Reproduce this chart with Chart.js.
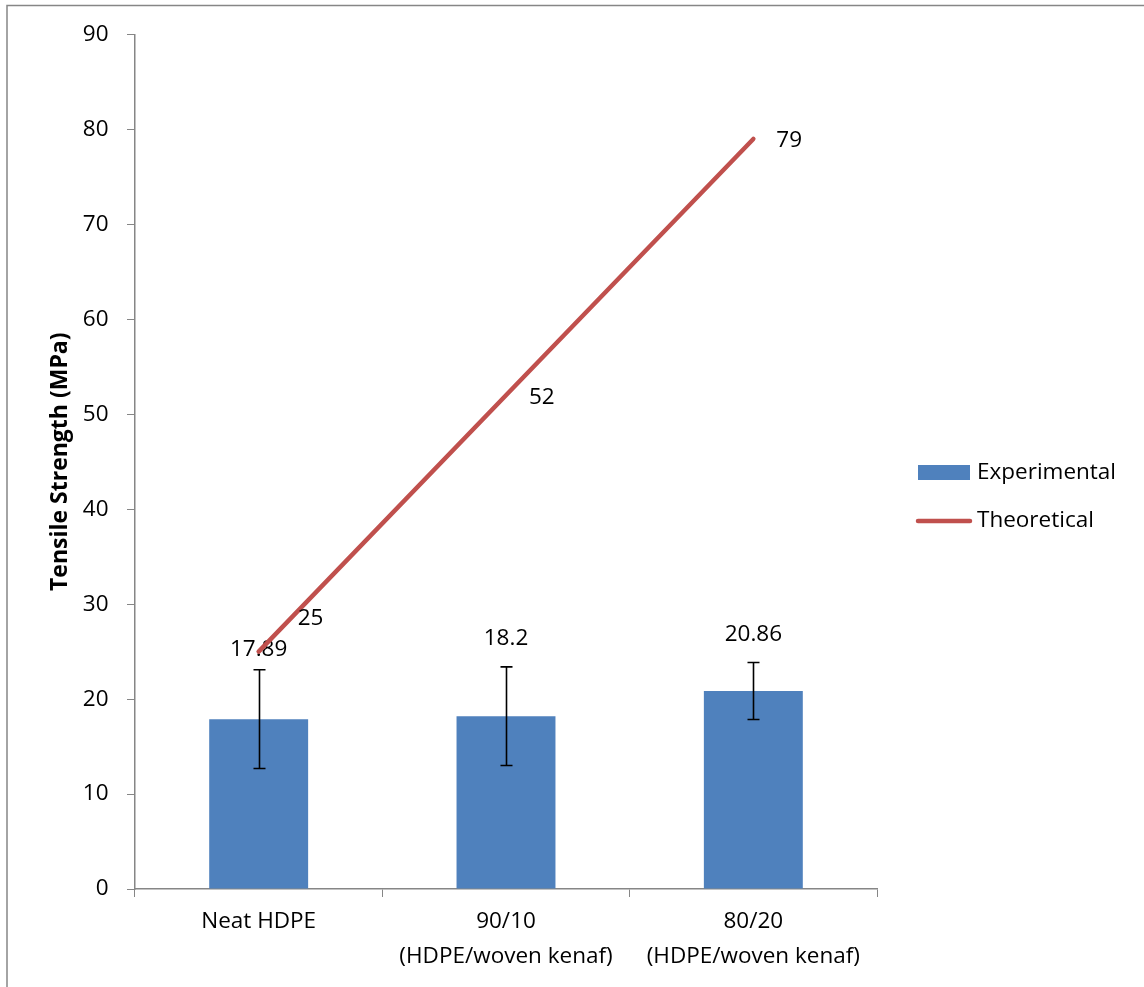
<!DOCTYPE html>
<html>
<head>
<meta charset="utf-8">
<script src="https://cdn.jsdelivr.net/npm/chart.js@4.4.1/dist/chart.umd.min.js"></script>
<style>
  html, body { margin: 0; padding: 0; background: #ffffff; }
  #wrap { width: 1144px; height: 987px; position: relative; }
</style>
</head>
<body>
<div id="wrap"><canvas id="c" width="1144" height="987"></canvas></div>
<script>
// ---- data ----
const categories = ['Neat HDPE', ['90/10', '(HDPE/woven kenaf)'], ['80/20', '(HDPE/woven kenaf)']];
const experimental = [17.89, 18.2, 20.86];
const experimentalError = [5.2, 5.2, 3.0];
const theoretical = [25, 52, 79];
const experimentalLabels = ['17.89', '18.2', '20.86'];
const theoreticalLabels = ['25', '52', '79'];
const yMin = 0, yMax = 90, yStep = 10;
const seriesNames = ['Experimental', 'Theoretical'];
const yTitle = 'Tensile Strength (MPa)';

// ---- style / layout (not data) ----
const FONT = '"Open Sans", "Liberation Sans", sans-serif';
const FS = 22.5;
const BLUE = '#4F81BD';
const RED = '#C0504D';
const AXIS = '#868686';
const barLabelGap = [20, 28, 28];          // px above error-bar top
const lineLabelNudge = [[39, -33], [23, 2], [23, 2]]; // px offsets from point

const frame = {
  id: 'frame',
  beforeDraw(chart) {
    const ctx = chart.ctx;
    ctx.save();
    ctx.fillStyle = '#fff';
    ctx.fillRect(0, 0, chart.width, chart.height);
    ctx.strokeStyle = AXIS;
    ctx.lineWidth = 1.5;
    ctx.beginPath();
    ctx.moveTo(7, chart.height);
    ctx.lineTo(7, 5.5);
    ctx.lineTo(chart.width, 5.5);
    ctx.stroke();
    ctx.restore();
  }
};

const extras = {
  id: 'extras',
  afterDatasetDraw(chart, args) {
    const ctx = chart.ctx;
    const y = chart.scales.y;
    if (args.meta.type === 'bar') {
      ctx.save();
      ctx.strokeStyle = '#000';
      ctx.lineWidth = 1.6;
      args.meta.data.forEach((bar, i) => {
        const v = experimental[i], e = experimentalError[i];
        const x = Math.round(bar.x) + 0.5;
        const yt = y.getPixelForValue(v + e), yb = y.getPixelForValue(v - e);
        ctx.beginPath();
        ctx.moveTo(x, yt); ctx.lineTo(x, yb);
        ctx.moveTo(x - 6, yt); ctx.lineTo(x + 6, yt);
        ctx.moveTo(x - 6, yb); ctx.lineTo(x + 6, yb);
        ctx.stroke();
        ctx.fillStyle = '#000';
        ctx.font = FS + 'px ' + FONT;
        ctx.textAlign = 'center';
        ctx.textBaseline = 'middle';
        ctx.fillText(experimentalLabels[i], bar.x, yt - barLabelGap[i]);
      });
      ctx.restore();
    }
    if (args.meta.type === 'line') {
      ctx.save();
      ctx.fillStyle = '#000';
      ctx.font = FS + 'px ' + FONT;
      ctx.textAlign = 'left';
      ctx.textBaseline = 'middle';
      args.meta.data.forEach((pt, i) => {
        ctx.fillText(theoreticalLabels[i], pt.x + lineLabelNudge[i][0], pt.y + lineLabelNudge[i][1]);
      });
      ctx.restore();
    }
  },
  afterDraw(chart) {
    const ctx = chart.ctx;
    ctx.save();
    ctx.font = FS + 'px ' + FONT;
    ctx.fillStyle = '#000';
    ctx.textAlign = 'left';
    ctx.textBaseline = 'middle';
    // Experimental
    ctx.fillStyle = BLUE;
    ctx.fillRect(918, 465, 52, 15);
    ctx.fillStyle = '#000';
    ctx.fillText(seriesNames[0], 977, 473);
    // Theoretical
    ctx.strokeStyle = RED;
    ctx.lineWidth = 4.5;
    ctx.lineCap = 'round';
    ctx.beginPath();
    ctx.moveTo(918, 521); ctx.lineTo(970, 521);
    ctx.stroke();
    ctx.fillText(seriesNames[1], 977, 521);
    ctx.restore();
  }
};

new Chart(document.getElementById('c'), {
  type: 'bar',
  data: {
    labels: categories,
    datasets: [
      {
        type: 'line',
        label: seriesNames[1],
        data: theoretical,
        borderColor: RED,
        backgroundColor: RED,
        borderWidth: 4.5,
        borderCapStyle: 'round',
        pointRadius: 0,
        pointHoverRadius: 0,
        tension: 0,
        order: 0
      },
      {
        type: 'bar',
        label: seriesNames[0],
        data: experimental,
        backgroundColor: BLUE,
        borderWidth: 0,
        barPercentage: 0.4,
        categoryPercentage: 1.0,
        order: 1
      }
    ]
  },
  options: {
    responsive: false,
    animation: false,
    devicePixelRatio: 1,
    layout: { padding: { left: 0, right: 267, top: 34.5, bottom: 0 } },
    plugins: {
      legend: { display: false },
      tooltip: { enabled: false }
    },
    scales: {
      x: {
        grid: { display: true, drawOnChartArea: false, drawTicks: true, tickLength: 8, color: AXIS, offset: true },
        border: { display: true, color: AXIS, width: 1.5 },
        ticks: {
          color: '#000',
          font: { family: FONT, size: FS, lineHeight: 1.556 },
          padding: 7.5,
          maxRotation: 0,
          autoSkip: false
        },
        afterFit(scale) { scale.height = 98; }
      },
      y: {
        min: yMin, max: yMax,
        grid: { display: true, drawOnChartArea: false, drawTicks: true, tickLength: 8, color: AXIS },
        border: { display: true, color: AXIS, width: 1.5 },
        ticks: {
          stepSize: yStep,
          color: '#000',
          font: { family: FONT, size: FS },
          padding: 18.5
        },
        title: {
          display: true,
          text: yTitle,
          color: '#000',
          font: { family: FONT, size: 23, weight: 'bold' },
          padding: { top: 47, bottom: 0 }
        },
        afterFit(scale) { scale.width = 135; }
      }
    }
  },
  plugins: [frame, extras]
});
</script>
</body>
</html>
